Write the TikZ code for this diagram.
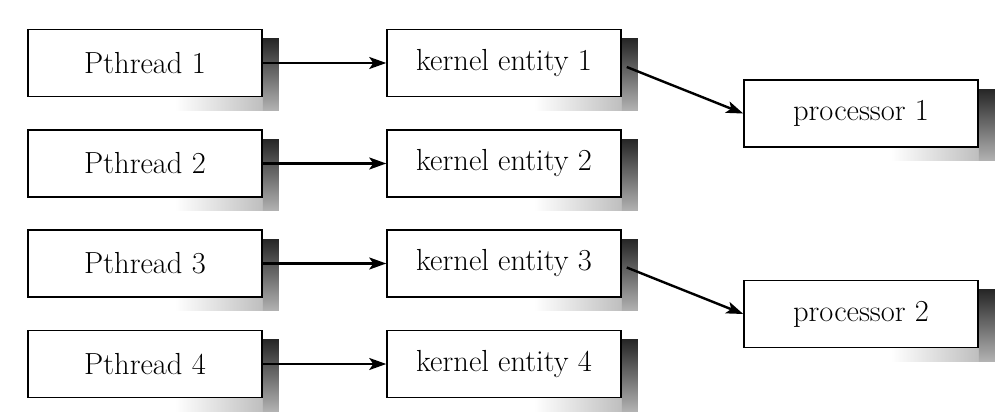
\documentclass[tikz,border=0pt]{standalone}
\usetikzlibrary{calc,arrows.meta,backgrounds}
\begin{document}
\begin{tikzpicture}[x=1pt,y=-1pt,
  box/.style={draw=black,fill=white,line width=1.5pt,minimum width=234pt,minimum height=67pt,inner sep=0pt,
    font=\fontsize{30.5}{35}\selectfont},
  conn/.style={line width=2.4pt,-{Stealth[length=17pt,width=12pt,inset=4pt]}},
  rshadow/.style={top color=black!85,bottom color=black!30},
  bshadow/.style={left color=white,right color=black!30}]
\useasboundingbox (0,0) rectangle (1007,417);
\node[box] (p1) at (145,63) {Pthread 1};
\node[box] (p2) at (145,163.5) {Pthread 2};
\node[box] (p3) at (145,263.5) {Pthread 3};
\node[box] (p4) at (145,364) {Pthread 4};
\node[box] (k1) at (504,63) {kernel entity 1};
\node[box] (k2) at (504,163.5) {kernel entity 2};
\node[box] (k3) at (504,263.5) {kernel entity 3};
\node[box] (k4) at (504,364) {kernel entity 4};
\node[box] (c1) at (861,113.5) {processor 1};
\node[box] (c2) at (861,314) {processor 2};
\begin{scope}[on background layer]
\foreach \n in {p1,p2,p3,p4,k1,k2,k3,k4,c1,c2}{
  \fill[bshadow] ($(\n.south)+(30,0)$) rectangle ($(\n.south east)+(16,13)$);
  \fill[rshadow] ($(\n.north east)+(0,10)$) rectangle ($(\n.south east)+(16,13)$);
}
\end{scope}
\draw[conn] (p1.east) -- (k1.west);
\draw[conn] (p2.east) -- (k2.west);
\draw[conn] (p3.east) -- (k3.west);
\draw[conn] (p4.east) -- (k4.west);
\draw[conn] ($(k1.east)+(5,4)$) -- (c1.west);
\draw[conn] ($(k3.east)+(5,4)$) -- (c2.west);
\end{tikzpicture}
\end{document}
